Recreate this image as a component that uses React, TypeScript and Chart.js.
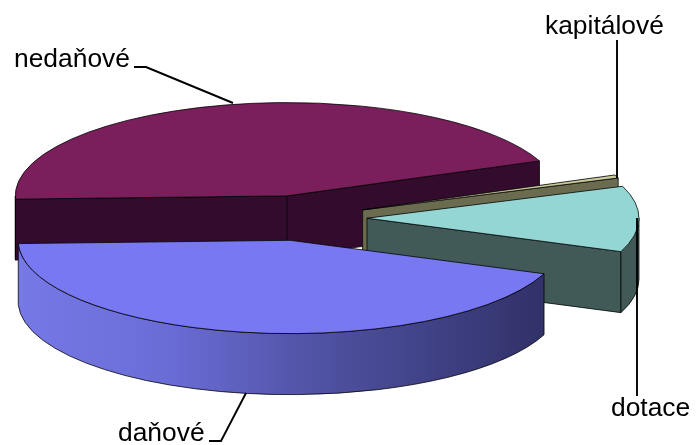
import React, { useEffect, useRef } from "react";
import { Chart, registerables } from "chart.js";

Chart.register(...registerables);

const categories = ["nedaňové", "kapitálové", "dotace", "daňové"];
const seriesValues = [160, 2, 41, 157];
const explode = [66, 66, 66, 66];

const topColors = ["#7a1f5c", "#c9c99c", "#94d6d3", "#7878f2"];
const wallColors = ["#330b2c", "#6b6b50", "#415a58", "#7878f2"];

const SQUASH = 0.343;
const DEPTH = 61;
const RADIUS = 272;
const START_ROTATION = 268;

const FONT = '26.4px "Liberation Sans", Arial, sans-serif';
const labelPositions: [number, number][] = [
  [14, 67],
  [545, 34],
  [611, 416],
  [118, 441],
];
const leaders: [number, number][][] = [
  [[134, 67], [146, 67], [233, 103]],
  [[617, 40], [617, 178]],
  [[637, 396], [637, 218]],
  [[209, 441], [221, 441], [246, 393]],
];

const pie3d = {
  id: "pie3d",
  beforeDatasetDraw(chart: any) {
    const ctx: CanvasRenderingContext2D = chart.ctx;
    const arcs = chart.getDatasetMeta(0).data;

    const geo = arcs.map((arc: any, i: number) => {
      const mid = (arc.startAngle + arc.endAngle) / 2;
      const ax = arc.x + Math.cos(mid) * explode[i];
      const ay = arc.y + Math.sin(mid) * explode[i] * SQUASH;
      return { arc, ax, ay, s: arc.startAngle, e: arc.endAngle, r: arc.outerRadius };
    });

    const outline = () => {
      ctx.lineWidth = 0.9;
      ctx.strokeStyle = "rgba(0,0,0,0.85)";
      ctx.stroke();
    };

    const face = (g: any, a: number, fill: string, visible: boolean) => {
      const ex = g.ax + g.r * Math.cos(a);
      const ey = g.ay + g.r * SQUASH * Math.sin(a);
      ctx.beginPath();
      ctx.moveTo(g.ax, g.ay);
      ctx.lineTo(ex, ey);
      ctx.lineTo(ex, ey + DEPTH);
      ctx.lineTo(g.ax, g.ay + DEPTH);
      ctx.closePath();
      ctx.fillStyle = fill;
      ctx.fill();
      if (visible) outline();
    };

    geo.forEach((g: any, i: number) => {
      const fill = wallColors[i];
      const cs = Math.cos(g.s) < 0;
      const ce = Math.cos(g.e) > 0;
      if (i !== 3) {
        face(g, g.s, fill, cs);
        face(g, g.e, fill, ce);
      }
      // outer wall: the part of the rim that faces the viewer
      const ranges: [number, number][] = [];
      const twoPi = Math.PI * 2;
      for (const shift of [0, twoPi, -twoPi]) {
        const a1 = Math.max(g.s, shift);
        const a2 = Math.min(g.e, shift + Math.PI);
        if (a2 > a1) ranges.push([a1, a2]);
      }
      ranges.forEach(([a1, a2]) => {
        ctx.beginPath();
        ctx.ellipse(g.ax, g.ay, g.r, g.r * SQUASH, 0, a1, a2);
        ctx.ellipse(g.ax, g.ay + DEPTH, g.r, g.r * SQUASH, 0, a2, a1, true);
        ctx.closePath();
        if (i === 3) {
          const grad = ctx.createLinearGradient(g.ax - g.r, 0, g.ax + g.r, 0);
          grad.addColorStop(0, "#7679e6");
          grad.addColorStop(0.28, "#6a6cd6");
          grad.addColorStop(0.55, "#5052a3");
          grad.addColorStop(0.8, "#3d3e80");
          grad.addColorStop(1, "#2e2f63");
          ctx.fillStyle = grad;
        } else {
          ctx.fillStyle = fill;
        }
        ctx.fill();
        outline();
      });
    });

    // slice tops: drawn by the library's own arc elements, flattened
    geo.forEach((g: any) => {
      ctx.save();
      ctx.translate(g.ax, g.ay);
      ctx.scale(1, SQUASH);
      ctx.translate(-g.arc.x, -g.arc.y);
      g.arc.draw(ctx);
      ctx.restore();
      ctx.beginPath();
      ctx.moveTo(g.ax, g.ay);
      ctx.ellipse(g.ax, g.ay, g.r, g.r * SQUASH, 0, g.s, g.e);
      ctx.closePath();
      outline();
    });

    // leader lines and labels
    ctx.strokeStyle = "#000";
    ctx.lineWidth = 1.9;
    leaders.forEach((pts) => {
      ctx.beginPath();
      pts.forEach(([x, y], j) => (j ? ctx.lineTo(x, y) : ctx.moveTo(x, y)));
      ctx.stroke();
    });
    ctx.fillStyle = "#000";
    ctx.font = FONT;
    ctx.textAlign = "left";
    ctx.textBaseline = "alphabetic";
    categories.forEach((c, i) => ctx.fillText(c, labelPositions[i][0], labelPositions[i][1]));

    return false;
  },
};

export default function App() {
  const ref = useRef<HTMLCanvasElement>(null);
  useEffect(() => {
    const chart = new Chart(ref.current as HTMLCanvasElement, {
      type: "pie",
      data: {
        labels: categories,
        datasets: [
          {
            data: seriesValues,
            backgroundColor: topColors,
            borderWidth: 0,
            radius: RADIUS,
          } as any,
        ],
      },
      options: {
        responsive: false,
        animation: false,
        rotation: START_ROTATION,
        layout: { padding: { right: 96, bottom: 9 } },
        plugins: { legend: { display: false }, tooltip: { enabled: false } },
      },
      plugins: [pie3d],
    } as any);
    return () => chart.destroy();
  }, []);
  return (
    <canvas
      ref={ref}
      width={698}
      height={445}
      style={{ position: "fixed", left: 0, top: 0, width: 698, height: 445, background: "#fff" }}
    />
  );
}
